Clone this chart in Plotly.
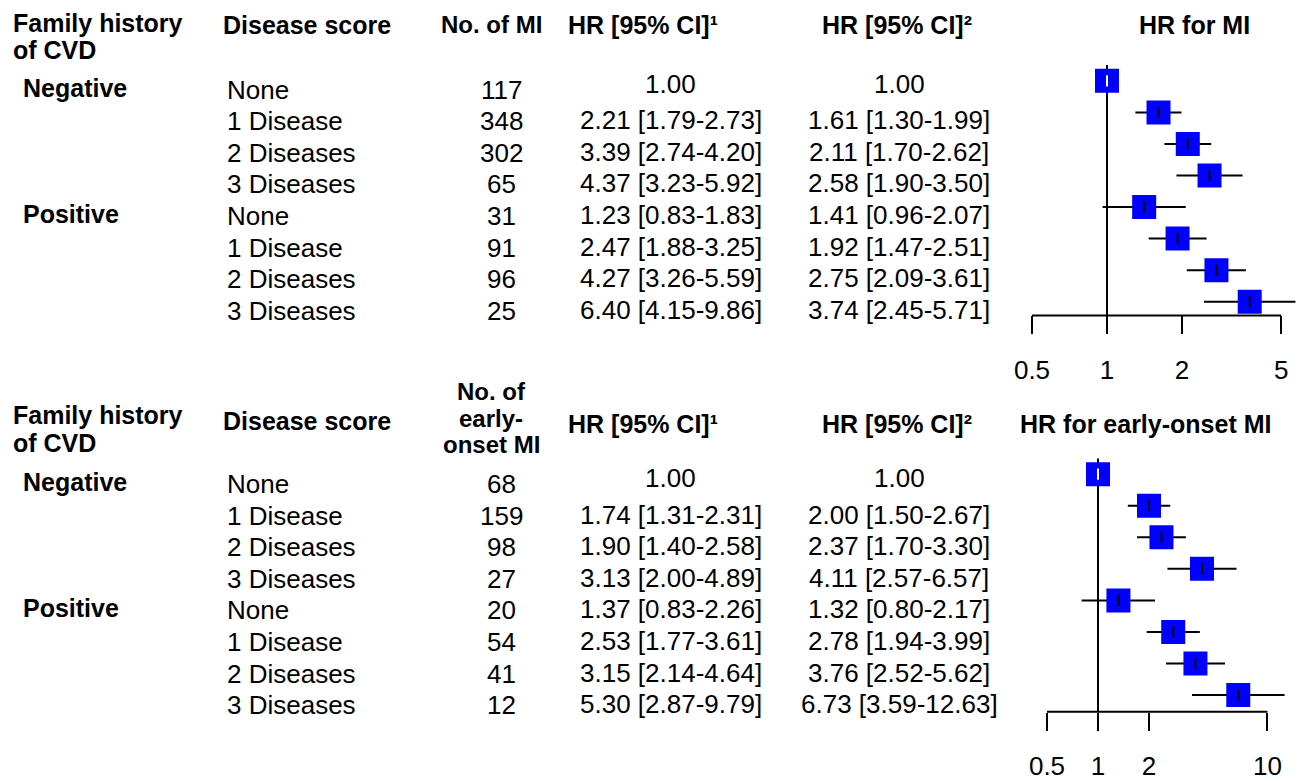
import plotly.graph_objects as go

W, H = 1298, 781

families = ["Negative", "Positive"]
scores = ["None", "1 Disease", "2 Diseases", "3 Diseases",
          "None", "1 Disease", "2 Diseases", "3 Diseases"]

# --- MI ---
n_mi = [117, 348, 302, 65, 31, 91, 96, 25]
hr1_mi = [1.00, 2.21, 3.39, 4.37, 1.23, 2.47, 4.27, 6.40]
lo1_mi = [1.00, 1.79, 2.74, 3.23, 0.83, 1.88, 3.26, 4.15]
hi1_mi = [1.00, 2.73, 4.20, 5.92, 1.83, 3.25, 5.59, 9.86]
hr2_mi = [1.00, 1.61, 2.11, 2.58, 1.41, 1.92, 2.75, 3.74]
lo2_mi = [1.00, 1.30, 1.70, 1.90, 0.96, 1.47, 2.09, 2.45]
hi2_mi = [1.00, 1.99, 2.62, 3.50, 2.07, 2.51, 3.61, 5.71]
ticks_mi = [0.5, 1, 2, 5]

# --- early-onset MI ---
n_early = [68, 159, 98, 27, 20, 54, 41, 12]
hr1_e = [1.00, 1.74, 1.90, 3.13, 1.37, 2.53, 3.15, 5.30]
lo1_e = [1.00, 1.31, 1.40, 2.00, 0.83, 1.77, 2.14, 2.87]
hi1_e = [1.00, 2.31, 2.58, 4.89, 2.26, 3.61, 4.64, 9.79]
hr2_e = [1.00, 2.00, 2.37, 4.11, 1.32, 2.78, 3.76, 6.73]
lo2_e = [1.00, 1.50, 1.70, 2.57, 0.80, 1.94, 2.52, 3.59]
hi2_e = [1.00, 2.67, 3.30, 6.57, 2.17, 3.99, 5.62, 12.63]
ticks_e = [0.5, 1, 2, 10]

FONT = "Liberation Sans, Arial, sans-serif"
BODY = 26
HEAD = 25
BLUE = "#0000FF"


def fmt(h, l, u):
    if h == 1.0 and l == 1.0 and u == 1.0:
        return "1.00"
    return f"{h:.2f} [{l:.2f}-{u:.2f}]"


def px(x):
    return x / W


def py(y):
    return 1 - y / H


fig = go.Figure()
annotations = []
shapes = []


def body_font():
    return dict(size=BODY, family=FONT, color="black")


def head_font(size=HEAD):
    return dict(size=size, family=FONT, color="black", weight="bold")


def panel(xa, ya, hr, lo, hi, ns, hr1, lo1, hi1, tickvals, fam_lines, dsy, hry, rows_shift,
          n_header, forest_title, title_x, title_anchor):
    rows = list(range(len(hr)))
    # reference vertical line at HR = 1
    fig.add_trace(go.Scatter(x=[1, 1], y=[-0.5, 100], mode="lines",
                             line=dict(color="black", width=2),
                             xaxis=xa, yaxis=ya, hoverinfo="skip", showlegend=False))
    # CI lines
    cx, cy = [], []
    for i, (l, u) in enumerate(zip(lo, hi)):
        cx += [l, u, None]
        cy += [i, i, None]
    fig.add_trace(go.Scatter(x=cx, y=cy, mode="lines",
                             line=dict(color="black", width=2),
                             xaxis=xa, yaxis=ya, hoverinfo="skip", showlegend=False))
    # squares
    fig.add_trace(go.Scatter(x=hr, y=rows, mode="markers",
                             marker=dict(symbol="square", size=24, color=BLUE,
                                         line=dict(width=0)),
                             xaxis=xa, yaxis=ya, showlegend=False))
    # point-estimate ticks
    tick_col = ["white" if (l == u) else "black" for l, u in zip(lo, hi)]
    fig.add_trace(go.Scatter(x=hr, y=rows, mode="markers",
                             marker=dict(symbol="line-ns", size=8,
                                         line=dict(width=2, color=tick_col)),
                             xaxis=xa, yaxis=ya, hoverinfo="skip", showlegend=False))
    # x axis baseline
    shapes.append(dict(type="line", xref=xa, yref=ya + " domain",
                       x0=min(tickvals), x1=max(tickvals), y0=0, y1=0,
                       line=dict(color="black", width=2)))

    # table text
    for i in rows:
        annotations.append(dict(text=scores[i], xref="paper", yref=ya, x=px(225), y=i,
                                xanchor="left", yanchor="middle", yshift=-rows_shift,
                                showarrow=False, font=body_font()))
        annotations.append(dict(text=str(ns[i]), xref="paper", yref=ya, x=px(501), y=i,
                                xanchor="center", yanchor="middle", yshift=-rows_shift,
                                showarrow=False, font=body_font()))
        extra = 5 if i == 0 else 0
        annotations.append(dict(text=fmt(hr1[i], lo1[i], hi1[i]), xref="paper", yref=ya,
                                x=px(671), y=i, xanchor="center", yanchor="middle",
                                yshift=-rows_shift + extra + 1,
                                showarrow=False, font=body_font()))
        annotations.append(dict(text=fmt(hr[i], lo[i], hi[i]), xref="paper", yref=ya,
                                x=px(899), y=i, xanchor="center", yanchor="middle",
                                yshift=-rows_shift + extra + 1,
                                showarrow=False, font=body_font()))
    for k, fam in enumerate(families):
        annotations.append(dict(text=fam, xref="paper", yref=ya, x=px(21), y=4 * k,
                                xanchor="left", yanchor="middle", yshift=-rows_shift + 2,
                                showarrow=False, font=head_font()))

    # headers
    def head(text, x, y, anchor="left", size=HEAD):
        annotations.append(dict(text=text, xref="paper", yref="paper", x=px(x), y=py(y),
                                xanchor=anchor, yanchor="middle", showarrow=False,
                                font=head_font(size)))

    for txt, yy in fam_lines:
        head(txt, 11, yy)
    head("Disease score", 221, dsy)
    for txt, yy in n_header:
        head(txt, 491, yy, "center", 24)
    head("HR [95% CI]¹", 643, hry, "center")
    head("HR [95% CI]²", 897, hry, "center")
    head(forest_title, title_x, hry, title_anchor)


panel("x", "y", hr2_mi, lo2_mi, hi2_mi, n_mi, hr1_mi, lo1_mi, hi1_mi, ticks_mi,
      [("Family history", 23), ("of CVD", 51)], 25, 25, 9,
      [("No. of MI", 25)], "HR for MI", 1137, "left")
panel("x2", "y2", hr2_e, lo2_e, hi2_e, n_early, hr1_e, lo1_e, hi1_e, ticks_e,
      [("Family history", 421), ("of CVD", 449)], 427, 430, 10,
      [("No. of", 397), ("early-", 424), ("onset MI", 451)],
      "HR for early-onset MI", 1145, "center")

axis_common = dict(type="log", showgrid=False, zeroline=False, showline=False,
                   ticks="outside", ticklen=18, tickwidth=2, tickcolor="black",
                   tickfont=dict(size=BODY, family=FONT, color="black"),
                   ticklabelstandoff=13, fixedrange=True)

fig.update_layout(
    width=W, height=H,
    margin=dict(l=0, r=0, t=0, b=0),
    paper_bgcolor="white", plot_bgcolor="white",
    showlegend=False,
    xaxis=dict(domain=[px(1000), 1], range=[-0.4295, 0.7667], anchor="y",
               tickvals=ticks_mi, ticktext=[str(t) for t in ticks_mi], **axis_common),
    yaxis=dict(domain=[py(320), py(40)], range=[(320 - 82) / 32, (40 - 82) / 32],
               visible=False, fixedrange=True, anchor="x"),
    xaxis2=dict(domain=[px(1000), 1], range=[-0.5785, 1.1806], anchor="y2",
                tickvals=ticks_e, ticktext=[str(t) for t in ticks_e], **axis_common),
    yaxis2=dict(domain=[py(722), py(455)], range=[(722 - 481) / 32, (455 - 481) / 32],
                visible=False, fixedrange=True, anchor="x2"),
    annotations=annotations,
    shapes=shapes,
)

fig.write_html("out.html", config={"displayModeBar": False},
               post_script="document.body.style.margin='0';")
